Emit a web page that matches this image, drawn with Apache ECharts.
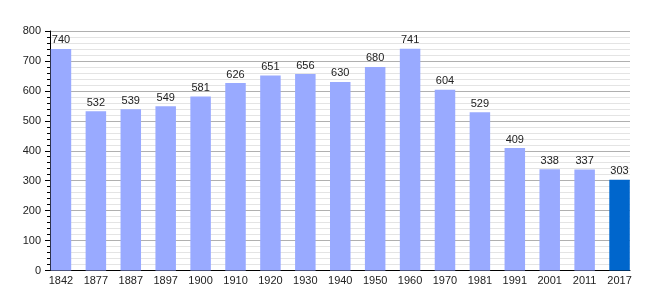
<!DOCTYPE html>
<html><head><meta charset="utf-8">
<script src="https://cdn.jsdelivr.net/npm/echarts@6/dist/echarts.min.js"></script>
<style>html,body{margin:0;padding:0;background:#fff}#c{width:660px;height:300px}</style>
</head><body><div id="c"></div>
<script>
const years = ['1842','1877','1887','1897','1900','1910','1920','1930','1940','1950','1960','1970','1981','1991','2001','2011','2017'];
const population = [740,532,539,549,581,626,651,656,630,680,741,604,529,409,338,337,303];
const yTicks = [0,100,200,300,400,500,600,700,800];
const lightColor = '#99aaff';
const lastColor = '#0066cc';

const chart = echarts.init(document.getElementById('c'));
const font = 'Liberation Sans, Arial, sans-serif';
chart.setOption({
  animation: false,
  grid: [
    {left: 50, right: 30, top: 31, bottom: 29.5},
    {left: 43.5, right: 23, top: 31, bottom: 29.5}
  ],
  xAxis: [
    {gridIndex: 0, type: 'value', min: 0, max: 1, show: true,
     axisLine: {show: true, onZero: false, lineStyle: {color: '#000', width: 1}},
     axisTick: {show: false}, axisLabel: {show: false}, splitLine: {show: false}},
    {gridIndex: 1, type: 'category', data: years,
     axisLine: {show: false}, axisTick: {show: false},
     axisLabel: {color: '#222', fontSize: 11, fontFamily: font, margin: 5, interval: 0}}
  ],
  yAxis: [
    {gridIndex: 0, type: 'value', min: yTicks[0], max: yTicks[yTicks.length-1], interval: 100,
     axisLine: {show: true, lineStyle: {color: '#000', width: 1}},
     axisTick: {show: true, length: 5, lineStyle: {color: '#000'}},
     minorTick: {show: true, splitNumber: 5, length: 3, lineStyle: {color: '#000'}},
     axisLabel: {color: '#222', fontSize: 11, fontFamily: font, margin: 9},
     splitLine: {show: true, lineStyle: {color: '#b0b0b0', width: 1}},
     minorSplitLine: {show: true, lineStyle: {color: '#e4e4e4', width: 1}}},
    {gridIndex: 1, type: 'value', min: 0, max: 800, show: false, splitLine: {show: false}}
  ],
  series: [{
    type: 'bar', xAxisIndex: 1, yAxisIndex: 1,
    barWidth: 20.5,
    data: population.map((v, i) => ({value: v, itemStyle: {color: i === population.length - 1 ? lastColor : lightColor}})),
    label: {show: true, position: 'top', distance: 3, color: '#222', fontSize: 11, fontFamily: font}
  }]
});
</script></body></html>
